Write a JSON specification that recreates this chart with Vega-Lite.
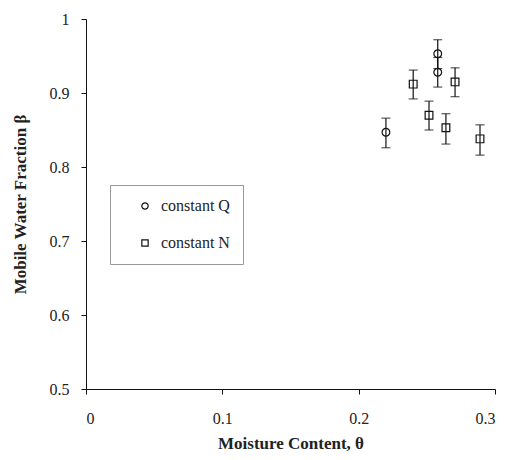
{
  "$schema": "https://vega.github.io/schema/vega-lite/v6.json",
  "width": 409,
  "height": 370,
  "autosize": "none",
  "padding": {"left": 86, "top": 19, "right": 14, "bottom": 71},
  "background": "white",
  "config": {
    "view": {"stroke": null},
    "font": "Liberation Serif",
    "axis": {"grid": false, "domainColor": "#111", "tickColor": "#111", "labelColor": "#222", "labelFont": "Liberation Serif", "labelFontSize": 16, "titleFont": "Liberation Serif", "titleFontSize": 17, "titleFontWeight": "bold", "titleColor": "#222", "tickSize": 5}
  },
  "data": {"values": [
    {"theta": 0.220, "beta": 0.847, "lower": 0.826, "upper": 0.866, "series": "constant Q"},
    {"theta": 0.258, "beta": 0.953, "lower": 0.933, "upper": 0.972, "series": "constant Q"},
    {"theta": 0.258, "beta": 0.928, "lower": 0.908, "upper": 0.948, "series": "constant Q"},
    {"theta": 0.240, "beta": 0.912, "lower": 0.892, "upper": 0.931, "series": "constant N"},
    {"theta": 0.2516, "beta": 0.870, "lower": 0.850, "upper": 0.889, "series": "constant N"},
    {"theta": 0.264, "beta": 0.853, "lower": 0.831, "upper": 0.872, "series": "constant N"},
    {"theta": 0.2707, "beta": 0.915, "lower": 0.895, "upper": 0.934, "series": "constant N"},
    {"theta": 0.289, "beta": 0.838, "lower": 0.816, "upper": 0.857, "series": "constant N"}
  ]},
  "encoding": {
    "x": {"field": "theta", "type": "quantitative", "scale": {"domain": [0, 0.3], "nice": false, "zero": false},
      "axis": {"values": [0, 0.1, 0.2, 0.3], "format": "~g", "title": "Moisture Content, θ", "labelPadding": 16, "titlePadding": 9}}
  },
  "layer": [
    {
      "mark": {"type": "rule", "color": "#111", "strokeWidth": 1.2},
      "encoding": {
        "y": {"field": "lower", "type": "quantitative", "scale": {"domain": [0.5, 1], "nice": false, "zero": false},
          "axis": {"values": [0.5, 0.6, 0.7, 0.8, 0.9, 1], "format": "~g", "title": "Mobile Water Fraction  β", "labelPadding": 12, "titlePadding": 20}},
        "y2": {"field": "upper"}
      }
    },
    {
      "mark": {"type": "tick", "orient": "horizontal", "color": "#111", "size": 9, "thickness": 1.2},
      "encoding": {"y": {"field": "lower", "type": "quantitative"}}
    },
    {
      "mark": {"type": "tick", "orient": "horizontal", "color": "#111", "size": 9, "thickness": 1.2},
      "encoding": {"y": {"field": "upper", "type": "quantitative"}}
    },
    {
      "mark": {"type": "point", "filled": false, "color": "#111", "strokeWidth": 1.2, "opacity": 1},
      "encoding": {
        "y": {"field": "beta", "type": "quantitative"},
        "size": {"value": 60},
        "shape": {"field": "series", "type": "nominal",
          "scale": {"domain": ["constant Q", "constant N"], "range": ["circle", "square"]},
          "legend": {"title": null, "orient": "none", "legendX": 24, "legendY": 166,
            "strokeColor": "#999", "padding": 13, "symbolOffset": 14,
            "labelFont": "Liberation Serif", "labelFontSize": 16, "labelColor": "#222", "labelOffset": 8,
            "rowPadding": 21, "symbolSize": 40, "symbolStrokeColor": "#111", "symbolStrokeWidth": 1.2}
        }
      }
    }
  ]
}
